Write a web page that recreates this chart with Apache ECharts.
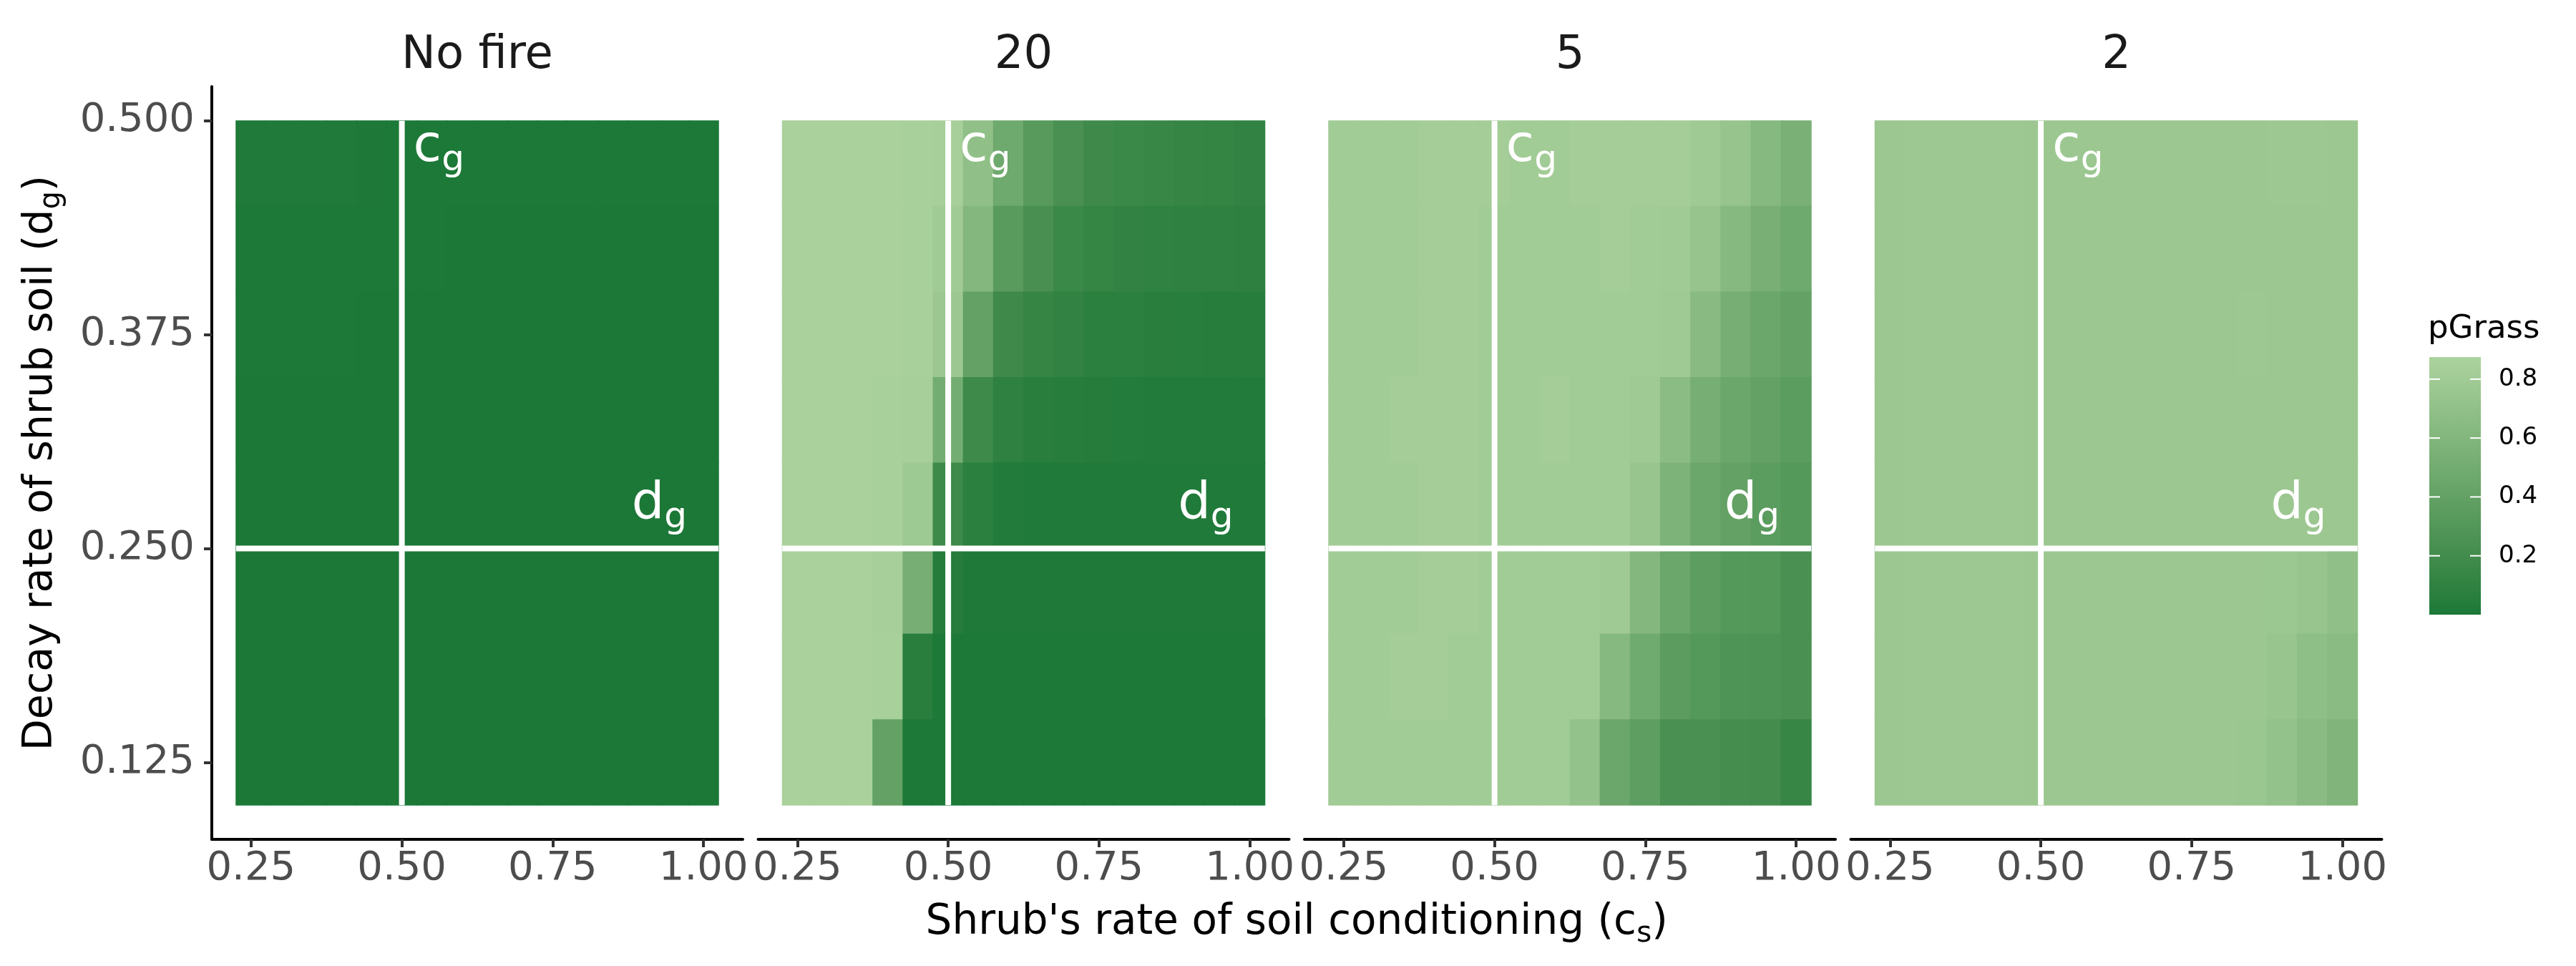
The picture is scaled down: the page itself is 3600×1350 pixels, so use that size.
<!DOCTYPE html>
<html><head><meta charset="utf-8">
<script src="https://cdn.jsdelivr.net/npm/echarts@6/dist/echarts.min.js"></script>
<style>html,body{margin:0;padding:0;background:#fff}#main{width:3600px;height:1350px}</style>
</head><body><div id="main"></div>
<script>
// ---------------- DATA ----------------
const panelTitles = ['No fire', '20', '5', '2'];
const csValues = [0.25, 0.30, 0.35, 0.40, 0.45, 0.50, 0.55, 0.60, 0.65, 0.70, 0.75, 0.80, 0.85, 0.90, 0.95, 1.00];
// rows listed from top (dg = 0.475) to bottom (dg = 0.125)
const dgValues = [0.475, 0.425, 0.375, 0.325, 0.275, 0.225, 0.175, 0.125];

const pGrassNoFire = [
  [0.02,0.02,0.02,0.02,0.012,0.01,0.008,0.008,0.006,0.006,0.005,0.005,0.005,0.005,0.005,0.005],
  [0.006,0.006,0.006,0.006,0.005,0.005,0.005,0.004,0.004,0.004,0.004,0.004,0.004,0.004,0.004,0.004],
  [0.005,0.005,0.005,0.005,0.004,0.004,0.004,0.004,0.003,0.003,0.003,0.003,0.003,0.003,0.003,0.003],
  [0.004,0.004,0.004,0.004,0.004,0.003,0.003,0.003,0.003,0.003,0.003,0.003,0.003,0.003,0.003,0.003],
  [0.004,0.004,0.004,0.003,0.003,0.003,0.003,0.003,0.003,0.003,0.003,0.003,0.003,0.003,0.003,0.003],
  [0.003,0.003,0.003,0.003,0.003,0.003,0.003,0.003,0.003,0.003,0.003,0.003,0.003,0.003,0.003,0.003],
  [0.003,0.003,0.003,0.003,0.003,0.003,0.003,0.003,0.003,0.003,0.003,0.003,0.003,0.003,0.003,0.003],
  [0.003,0.003,0.003,0.003,0.003,0.003,0.003,0.003,0.003,0.003,0.003,0.003,0.003,0.003,0.003,0.003]
];
const pGrass20 = [
  [0.86,0.86,0.86,0.86,0.85,0.84,0.69,0.47,0.33,0.24,0.18,0.16,0.15,0.13,0.12,0.11],
  [0.86,0.86,0.86,0.86,0.85,0.80,0.61,0.34,0.23,0.16,0.125,0.11,0.10,0.09,0.085,0.08],
  [0.86,0.86,0.86,0.86,0.85,0.77,0.40,0.18,0.13,0.11,0.075,0.07,0.06,0.055,0.05,0.05],
  [0.86,0.86,0.86,0.85,0.84,0.51,0.17,0.09,0.06,0.05,0.04,0.035,0.03,0.03,0.03,0.03],
  [0.86,0.86,0.86,0.85,0.78,0.17,0.07,0.03,0.02,0.02,0.02,0.02,0.02,0.02,0.02,0.02],
  [0.86,0.86,0.86,0.84,0.52,0.04,0.015,0.015,0.015,0.015,0.015,0.015,0.015,0.015,0.015,0.015],
  [0.86,0.86,0.86,0.85,0.06,0.01,0.01,0.01,0.01,0.01,0.01,0.01,0.01,0.01,0.01,0.01],
  [0.86,0.86,0.86,0.40,0.01,0.005,0.005,0.005,0.005,0.005,0.005,0.005,0.005,0.005,0.005,0.005]
];
const pGrass5 = [
  [0.81,0.81,0.81,0.82,0.82,0.82,0.81,0.81,0.82,0.82,0.82,0.82,0.79,0.73,0.625,0.55],
  [0.81,0.81,0.81,0.82,0.82,0.81,0.81,0.81,0.81,0.82,0.81,0.80,0.73,0.63,0.54,0.47],
  [0.81,0.81,0.81,0.82,0.82,0.81,0.81,0.81,0.81,0.81,0.81,0.79,0.64,0.53,0.45,0.40],
  [0.81,0.81,0.82,0.82,0.82,0.81,0.81,0.82,0.81,0.81,0.79,0.66,0.53,0.45,0.40,0.355],
  [0.81,0.81,0.81,0.82,0.82,0.81,0.81,0.81,0.81,0.81,0.74,0.57,0.45,0.40,0.355,0.31],
  [0.81,0.81,0.81,0.82,0.82,0.81,0.81,0.81,0.81,0.79,0.615,0.45,0.365,0.31,0.30,0.24],
  [0.81,0.81,0.82,0.82,0.81,0.81,0.81,0.81,0.81,0.625,0.48,0.36,0.31,0.27,0.26,0.24],
  [0.81,0.81,0.81,0.81,0.81,0.81,0.81,0.81,0.71,0.45,0.37,0.24,0.24,0.21,0.20,0.135]
];
const pGrass2 = [
  [0.77,0.775,0.775,0.775,0.775,0.77,0.77,0.77,0.77,0.77,0.77,0.77,0.77,0.775,0.775,0.77],
  [0.77,0.775,0.775,0.775,0.775,0.77,0.77,0.77,0.77,0.77,0.77,0.77,0.77,0.77,0.77,0.77],
  [0.77,0.775,0.775,0.775,0.775,0.77,0.77,0.77,0.77,0.77,0.77,0.77,0.775,0.77,0.77,0.77],
  [0.77,0.775,0.775,0.775,0.775,0.77,0.77,0.77,0.77,0.77,0.77,0.77,0.77,0.77,0.77,0.77],
  [0.77,0.775,0.775,0.775,0.775,0.77,0.77,0.77,0.77,0.77,0.77,0.77,0.77,0.77,0.77,0.77],
  [0.77,0.775,0.775,0.775,0.775,0.77,0.77,0.77,0.77,0.77,0.77,0.77,0.77,0.765,0.74,0.69],
  [0.77,0.775,0.775,0.775,0.775,0.77,0.77,0.77,0.77,0.77,0.77,0.77,0.77,0.74,0.68,0.65],
  [0.77,0.775,0.775,0.775,0.775,0.77,0.77,0.77,0.77,0.77,0.77,0.77,0.76,0.71,0.65,0.585]
];
const panelValues = [pGrassNoFire, pGrass20, pGrass5, pGrass2];

const xTicks = [0.25, 0.50, 0.75, 1.00];
const yTicks = [0.125, 0.250, 0.375, 0.500];
const legendTicks = [0.2, 0.4, 0.6, 0.8];
const fillMin = 0.0, fillMax = 0.875;
const cgLine = 0.5;   // vertical reference line (c_g)
const dgLine = 0.25;  // horizontal reference line (d_g)
const annotations = [
  {main: 'c', sub: 'g', x: 0.519, y: 0.4766, align: 'left'},
  {main: 'd', sub: 'g', x: 0.9726, y: 0.2678, align: 'right'}
];

// ---------------- STYLE / LAYOUT ----------------
const FONT = 'DejaVu Sans';
const lowCol = '#1B7837', highCol = '#ACD39E';
const L0 = 296, STEP = 763.5, GW = 742, GTOP = 121, GH = 1052;
const cellW = 0.05, cellH = 0.05;

// Lab interpolation of gradient (like ggplot's seq_gradient_pal)
function hex2rgb(h){h=h.replace('#','');return [0,2,4].map(i=>parseInt(h.substr(i,2),16));}
function s2l(c){c/=255;return c<=0.04045?c/12.92:Math.pow((c+0.055)/1.055,2.4);}
function l2s(c){c=c<=0.0031308?12.92*c:1.055*Math.pow(c,1/2.4)-0.055;return Math.round(Math.max(0,Math.min(1,c))*255);}
const WN=[0.95047,1,1.08883];
function f(t){return t>0.008856?Math.cbrt(t):7.787*t+16/116;}
function fi(t){return t>0.206893?t*t*t:(t-16/116)/7.787;}
function rgb2lab(rgb){const [R,G,B]=rgb.map(s2l);const X=0.4124*R+0.3576*G+0.1805*B,Y=0.2126*R+0.7152*G+0.0722*B,Z=0.0193*R+0.1192*G+0.9505*B;
  const fx=f(X/WN[0]),fy=f(Y/WN[1]),fz=f(Z/WN[2]);return [116*fy-16,500*(fx-fy),200*(fy-fz)];}
function lab2hex(lab){const fy=(lab[0]+16)/116,fx=fy+lab[1]/500,fz=fy-lab[2]/200;const X=fi(fx)*WN[0],Y=fi(fy)*WN[1],Z=fi(fz)*WN[2];
  const R=3.2406*X-1.5372*Y-0.4986*Z,G=-0.9689*X+1.8758*Y+0.0415*Z,B=0.0557*X-0.2040*Y+1.0570*Z;
  return '#'+[R,G,B].map(l2s).map(v=>v.toString(16).padStart(2,'0')).join('');}
const labLo=rgb2lab(hex2rgb(lowCol)), labHi=rgb2lab(hex2rgb(highCol));
const NSTOP=17;
const gradColors=[];
for(let i=0;i<NSTOP;i++){const t=i/(NSTOP-1);gradColors.push(lab2hex(labLo.map((v,k)=>v+(labHi[k]-v)*t)));}

// text measurement helpers
const mctx=document.createElement('canvas').getContext('2d');
function fnt(size){return size+'px "'+FONT+'"';}
function measure(t,size){mctx.font=fnt(size);mctx.textBaseline='alphabetic';return mctx.measureText(t).width;}
function midOff(size){mctx.font=fnt(size);mctx.textBaseline='middle';return mctx.measureText('H').actualBoundingBoxDescent;}
function textRun(segs,x,base,align,fill){
  const w=segs.map(s=>measure(s.t,s.size));const tot=w.reduce((a,b)=>a+b,0);
  let cx=align==='center'?x-tot/2:(align==='right'?x-tot:x);
  return segs.map((s,i)=>{const el={type:'text',x:cx,y:base+(s.dy||0)-midOff(s.size),
    style:{text:s.t,font:fnt(s.size),fill:fill,align:'left',verticalAlign:'middle'}};cx+=w[i];return el;});
}

// axis extents (tile extent + 5% expansion)
const xLo=csValues[0]-cellW/2, xHi=csValues[csValues.length-1]+cellW/2;
const yLo=dgValues[dgValues.length-1]-cellH/2, yHi=dgValues[0]+cellH/2;
const xMin=xLo-0.05*(xHi-xLo), xMax=xHi+0.05*(xHi-xLo);
const yMin=yLo-0.05*(yHi-yLo), yMax=yHi+0.05*(yHi-yLo);

const grid=[], xAxis=[], yAxis=[], series=[];
panelTitles.forEach((t,i)=>{
  grid.push({left:L0+i*STEP, top:GTOP, width:GW, height:GH});
  xAxis.push({gridIndex:i,type:'value',min:xMin,max:xMax,
    axisLine:{show:true,onZero:false,lineStyle:{color:'#000',width:4}},
    axisTick:{show:true,customValues:xTicks,length:11,lineStyle:{color:'#333',width:4}},
    axisLabel:{show:true,customValues:xTicks,formatter:v=>v.toFixed(2),fontSize:56,color:'#4d4d4d',margin:13,fontFamily:FONT},
    splitLine:{show:false}});
  yAxis.push({gridIndex:i,type:'value',min:yMin,max:yMax,show:i===0,
    axisLine:{show:true,onZero:false,lineStyle:{color:'#000',width:4}},
    axisTick:{show:true,customValues:yTicks,length:11,lineStyle:{color:'#333',width:4}},
    axisLabel:{show:true,customValues:yTicks,formatter:v=>v.toFixed(3),fontSize:56,color:'#4d4d4d',margin:24,fontFamily:FONT},
    splitLine:{show:false}});
});
// tiles
panelValues.forEach((vals,i)=>{
  const data=[];
  vals.forEach((row,r)=>row.forEach((v,c)=>data.push([csValues[c],dgValues[r],v])));
  series.push({type:'custom',xAxisIndex:i,yAxisIndex:i,data:data,encode:{x:0,y:1},z:2,silent:true,
    renderItem:function(params,api){
      const x=api.value(0),y=api.value(1);
      const p0=api.coord([x-cellW/2,y+cellH/2]), p1=api.coord([x+cellW/2,y-cellH/2]);
      return {type:'rect',shape:{x:p0[0]-0.5,y:p0[1]-0.5,width:p1[0]-p0[0]+1,height:p1[1]-p0[1]+1},
        style:{fill:api.visual('color')}};
    }});
});
// reference lines + annotations
panelValues.forEach((vals,i)=>{
  series.push({type:'line',xAxisIndex:i,yAxisIndex:i,data:[[cgLine,yLo],[cgLine,yHi]],symbol:'none',silent:true,z:3,
    lineStyle:{color:'#fff',width:8}});
  series.push({type:'line',xAxisIndex:i,yAxisIndex:i,data:[[xLo,dgLine],[xHi,dgLine]],symbol:'none',silent:true,z:3,
    lineStyle:{color:'#fff',width:8}});
  series.push({type:'custom',xAxisIndex:i,yAxisIndex:i,data:annotations.map(a=>[a.x,a.y]),encode:{x:0,y:1},z:4,silent:true,
    renderItem:function(params,api){
      const a=annotations[params.dataIndex];
      const p=api.coord([api.value(0),api.value(1)]);
      return {type:'group',children:textRun([{t:a.main,size:72},{t:a.sub,size:50,dy:13}],p[0],p[1],a.align,'#fff')};
    }});
});
// legend colourbar
const LG=panelTitles.length;
grid.push({left:3395,top:499,width:72,height:360});
xAxis.push({gridIndex:LG,type:'value',min:0,max:1,show:false});
yAxis.push({gridIndex:LG,type:'value',min:fillMin,max:fillMax,position:'right',
  axisLine:{show:false},axisTick:{show:false},splitLine:{show:false},
  axisLabel:{show:true,customValues:legendTicks,formatter:v=>v.toFixed(1),fontSize:34,color:'#000',margin:25,fontFamily:FONT}});
series.push({type:'custom',xAxisIndex:LG,yAxisIndex:LG,data:[[0,fillMin]],encode:{x:0,y:1},silent:true,
  renderItem:function(params,api){
    const p0=api.coord([0,fillMax]),p1=api.coord([1,fillMin]);
    return {type:'rect',shape:{x:p0[0],y:p0[1],width:p1[0]-p0[0],height:p1[1]-p0[1]},
      style:{fill:{type:'linear',x:0,y:1,x2:0,y2:0,colorStops:gradColors.map((c,k)=>({offset:k/(NSTOP-1),color:c}))}}};
  }});
series.push({type:'custom',xAxisIndex:LG,yAxisIndex:LG,data:legendTicks.map(v=>[0,v]),encode:{x:0,y:1},silent:true,z:3,
  renderItem:function(params,api){
    const v=api.value(1);const a=api.coord([0,v]),b=api.coord([1,v]);
    return {type:'group',children:[
      {type:'line',shape:{x1:a[0],y1:a[1],x2:a[0]+15,y2:a[1]},style:{stroke:'#fff',lineWidth:2}},
      {type:'line',shape:{x1:b[0]-15,y1:b[1],x2:b[0],y2:b[1]},style:{stroke:'#fff',lineWidth:2}}]};
  }});

// titles / axis titles
const graphic=[];
panelTitles.forEach((t,i)=>{
  textRun([{t:t,size:64}],L0+i*STEP+GW/2,95,'center','#1a1a1a').forEach(e=>graphic.push(e));
});
const plotCenterX=(L0+L0+(panelTitles.length-1)*STEP+GW)/2;
textRun([{t:"Shrub's rate of soil conditioning (c",size:58},{t:'s',size:41,dy:11},{t:')',size:58}],plotCenterX,1305,'center','#000').forEach(e=>graphic.push(e));
graphic.push({type:'group',x:72,y:GTOP+GH/2,rotation:Math.PI/2,
  children:textRun([{t:'Decay rate of shrub soil (d',size:57},{t:'g',size:40,dy:11},{t:')',size:57}],0,0,'center','#000')});
textRun([{t:'pGrass',size:45}],3393,472,'left','#000').forEach(e=>graphic.push(e));

const chart=echarts.init(document.getElementById('main'),null,{renderer:'canvas'});
chart.setOption({
  animation:false,
  backgroundColor:'#fff',
  textStyle:{fontFamily:FONT},
  grid:grid, xAxis:xAxis, yAxis:yAxis,
  visualMap:{type:'continuous',show:false,min:fillMin,max:fillMax,dimension:2,seriesIndex:[0,1,2,3],
    inRange:{color:gradColors}},
  graphic:graphic,
  series:series
});
</script></body></html>
